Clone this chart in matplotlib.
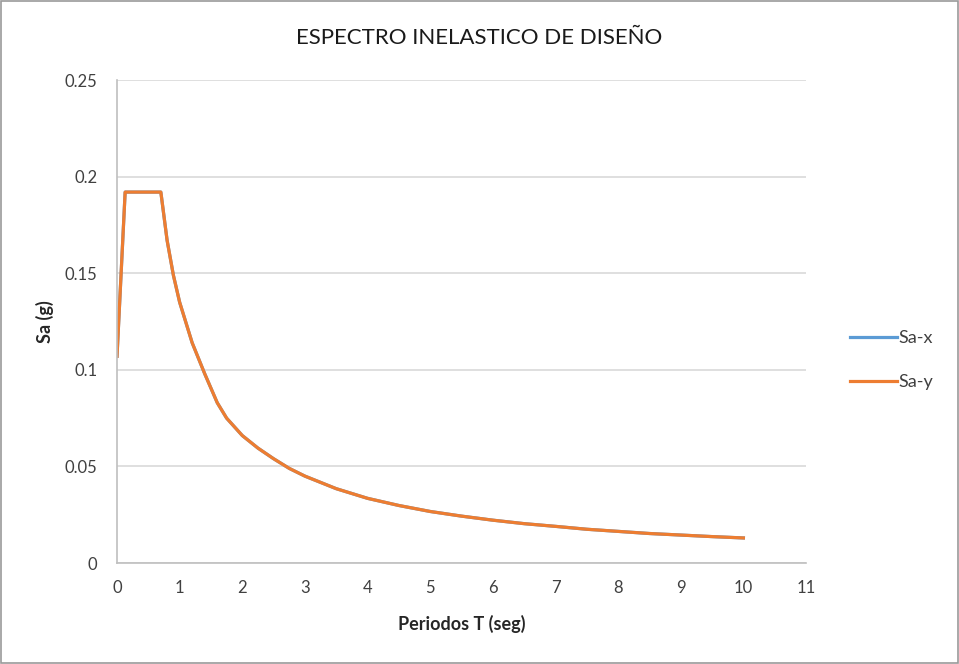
"""
Espectro inelastico de diseño: Sa vs periodo T
"""

import matplotlib
matplotlib.use("Agg")
import matplotlib.pyplot as plt
from matplotlib.patches import Rectangle
from matplotlib.ticker import FuncFormatter

# periodos (seg) y aceleracion espectral (g)
periodos = [0.0, 0.13, 0.7, 0.8, 0.9, 1.0, 1.2, 1.4, 1.6, 1.75, 2.0, 2.25,
            2.5, 2.75, 3.0, 3.5, 4.0, 4.5, 5.0, 5.5, 6.0, 6.5, 7.0, 7.5,
            8.0, 8.5, 9.0, 9.5, 10.0]
sa_x = [0.107, 0.192, 0.192, 0.167, 0.149, 0.135, 0.114, 0.098, 0.083,
        0.075, 0.066, 0.0595, 0.054, 0.049, 0.045, 0.0385, 0.0335, 0.0298,
        0.0267, 0.0243, 0.0222, 0.0204, 0.019, 0.0175, 0.0164, 0.0153,
        0.0145, 0.0137, 0.013]
sa_y = list(sa_x)

x_ticks = list(range(0, 12))
y_ticks = [0, 0.05, 0.1, 0.15, 0.2, 0.25]

plt.rcParams['font.family'] = ['Lato', 'DejaVu Sans']

fig = plt.figure(figsize=(9.59, 6.64), dpi=100)
ax = fig.add_axes([0.122, 0.152, 0.7185, 0.7275])

# marco del grafico
fig.patches.append(Rectangle((0.001, 0.001), 0.998, 0.997, transform=fig.transFigure,
                             fill=False, edgecolor='#9a9a9a', linewidth=1.2))

ax.plot(periodos, sa_x, color='#5B9BD5', linewidth=2.3, label='Sa-x')
ax.plot(periodos, sa_y, color='#ED7D31', linewidth=2.3, label='Sa-y')

ax.set_xlim(0, 11)
ax.set_ylim(0, 0.25)
ax.set_xticks(x_ticks)
ax.set_yticks(y_ticks)
ax.yaxis.set_major_formatter(FuncFormatter(lambda v, p: f"{v:g}"))
ax.tick_params(length=0, labelsize=12, colors='#404040', pad=12)
ax.tick_params(axis='y', pad=14)

ax.grid(axis='y', color='#d9d9d9', linewidth=1.2)
ax.set_axisbelow(True)
for side in ['top', 'right']:
    ax.spines[side].set_visible(False)
for side in ['left', 'bottom']:
    ax.spines[side].set_color('#bfbfbf')
    ax.spines[side].set_linewidth(1.2)

fig.text(0.5, 0.943, 'ESPECTRO INELASTICO DE DISEÑO', ha='center', va='center',
         fontsize=16, color='#1a1a1a')
ax.set_xlabel('Periodos T (seg)', fontsize=13, fontweight='bold', color='#262626',
              labelpad=14)
ax.set_ylabel('Sa (g)', fontsize=13, fontweight='bold', color='#262626',
              labelpad=8)

ax.legend(loc='center left', bbox_to_anchor=(1.04, 0.42), frameon=False,
          fontsize=13, handlelength=2.6, handletextpad=0.1, labelspacing=1.55,
          labelcolor='#404040')

fig.savefig('out.png', dpi=100)
